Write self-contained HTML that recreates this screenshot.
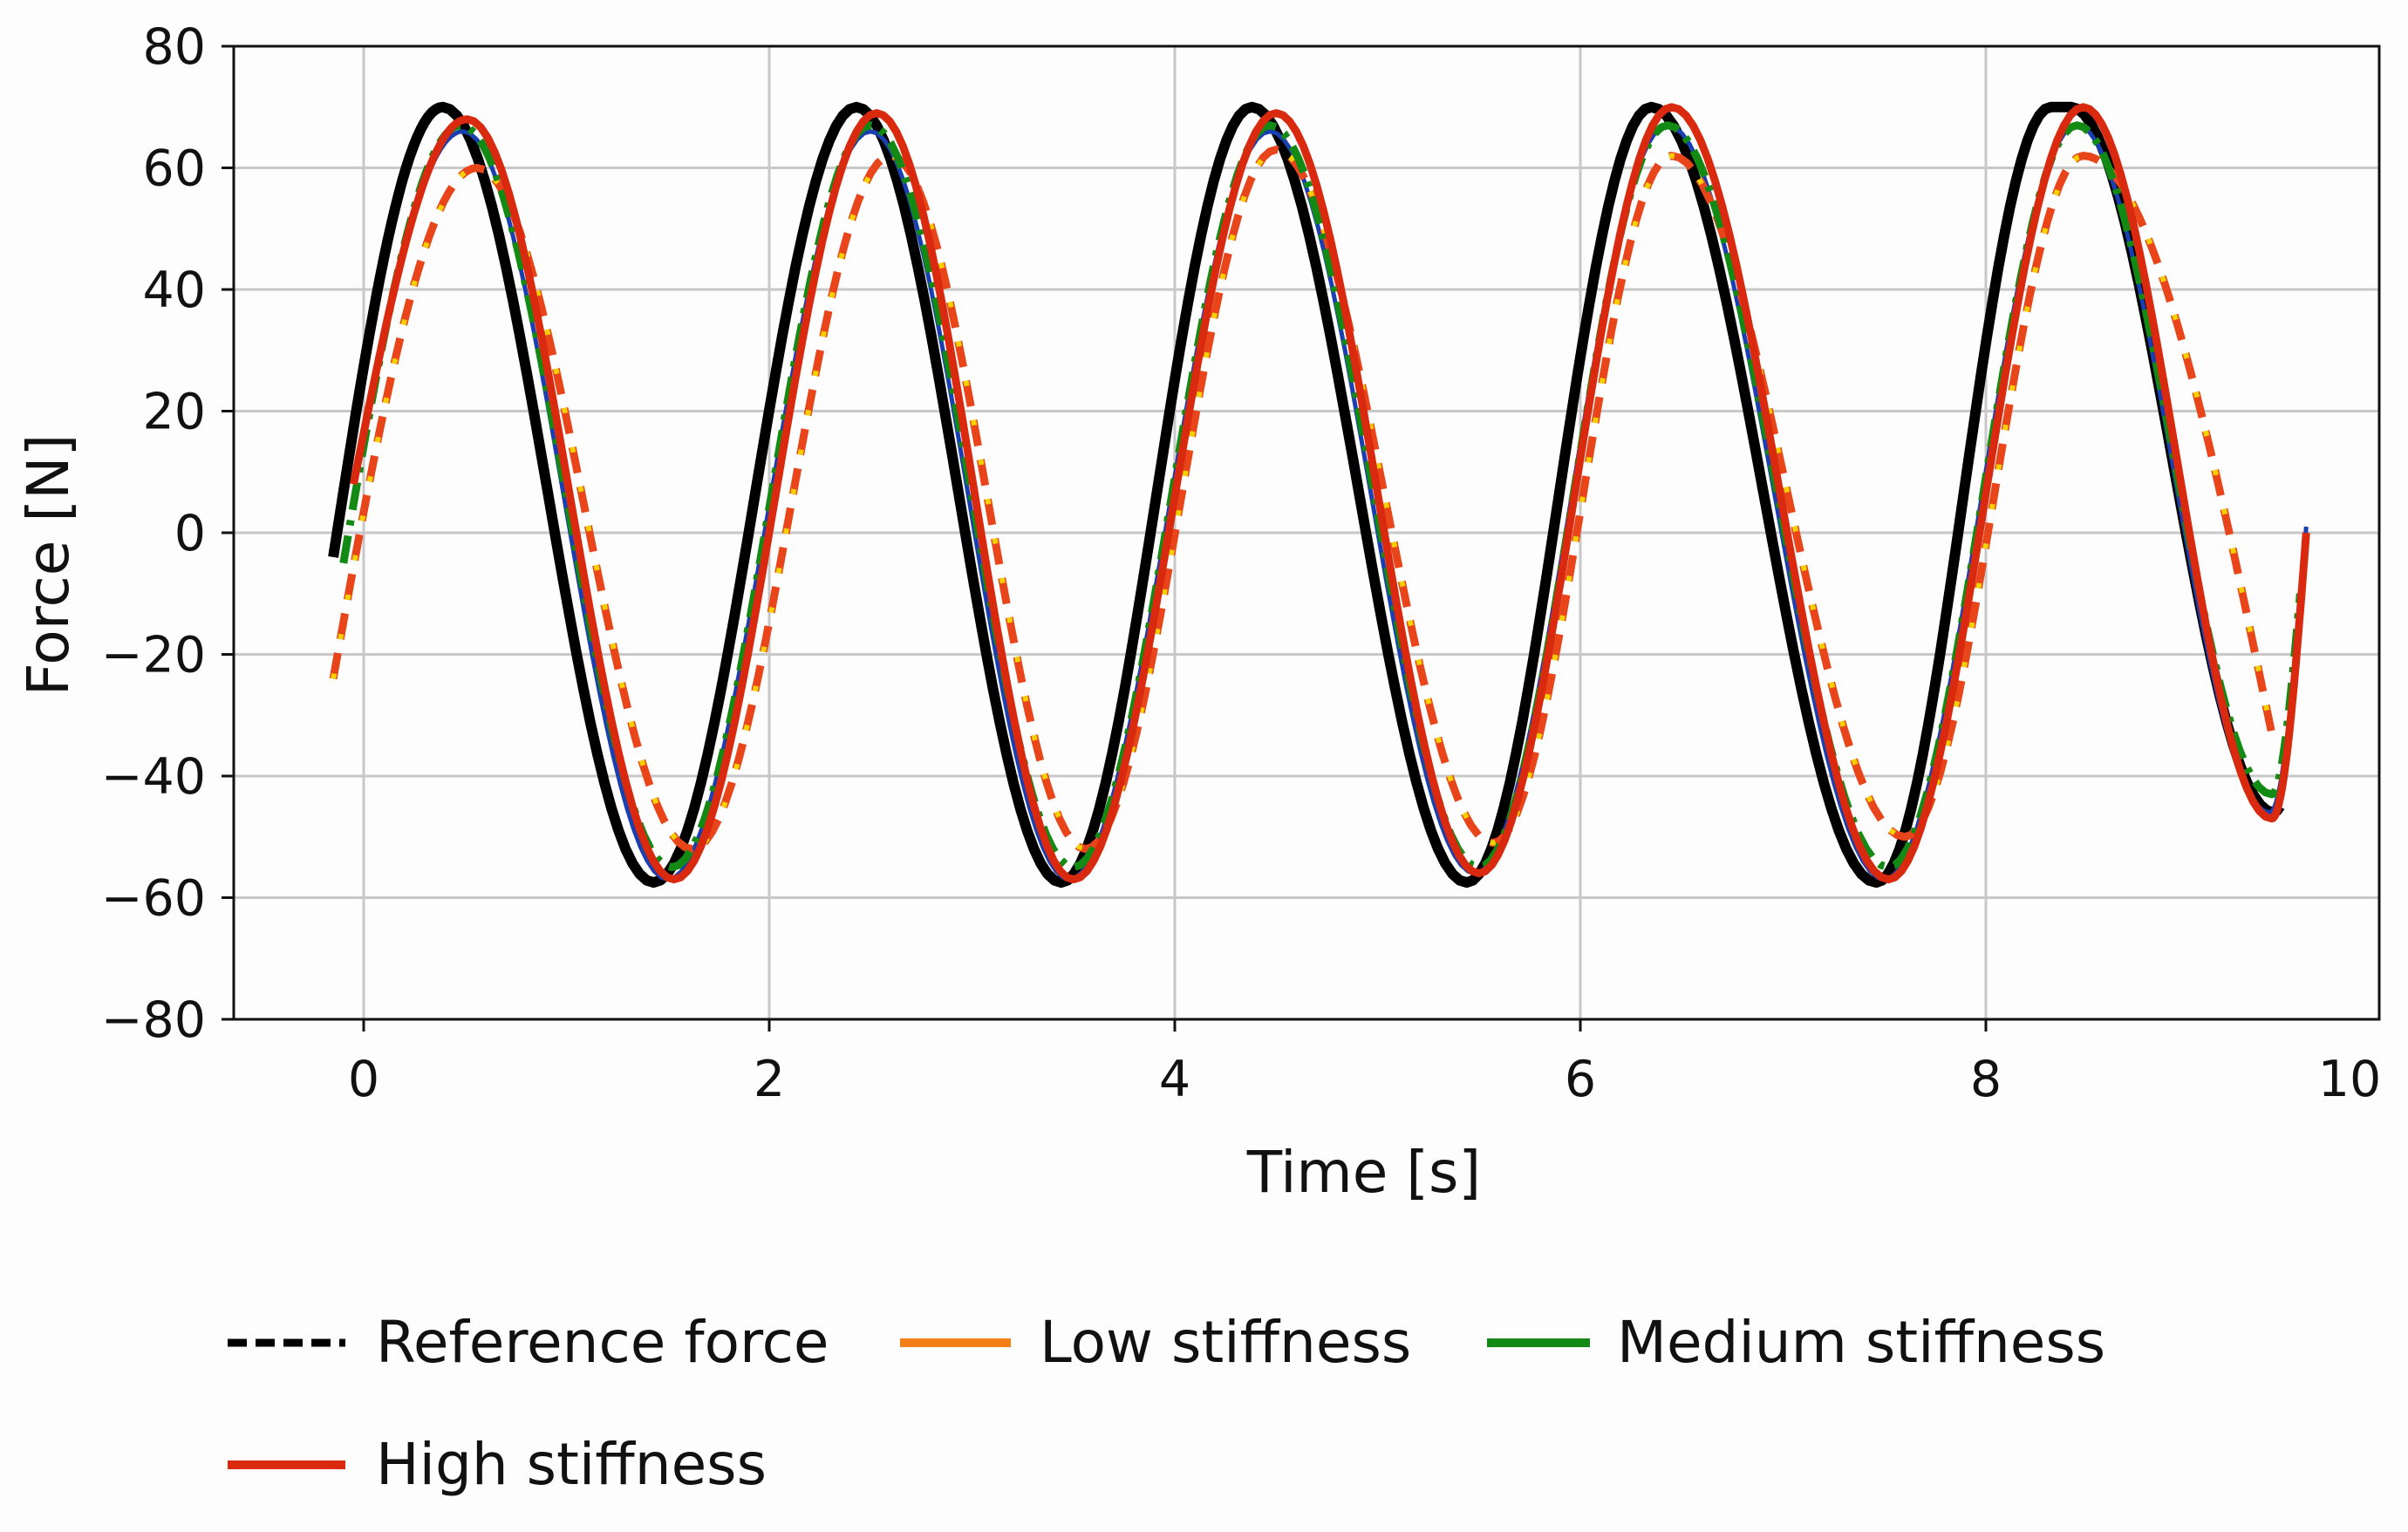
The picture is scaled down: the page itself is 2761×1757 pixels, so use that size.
<!DOCTYPE html>
<html><head><meta charset="utf-8"><style>
html,body{margin:0;padding:0;background:#fdfdfd;}
svg{display:block;font-family:"DejaVu Sans","Liberation Sans",sans-serif;}
</style></head><body>
<svg id="chart" width="2761" height="1757" viewBox="0 0 2761 1757" xmlns="http://www.w3.org/2000/svg">
<rect width="2761" height="1757" fill="#fdfdfd"/>
<g id="grid"></g>
<g id="series"></g>
<rect x="268" y="53" width="2460" height="1116" fill="none" stroke="#111" stroke-width="3"/>
<g id="ticks"></g>
<text x="1564" y="1367" font-size="66" text-anchor="middle" fill="#111">Time [s]</text>
<text transform="translate(78,648) rotate(-90)" font-size="66" text-anchor="middle" fill="#111">Force [N]</text>
<g font-size="66" fill="#111">
 <g><line x1="261" y1="1540" x2="396" y2="1540" stroke="#000" stroke-width="9" stroke-dasharray="22,10"/><text x="431" y="1562">Reference force</text></g>
 <g><line x1="1032" y1="1540" x2="1159" y2="1540" stroke="#f57f17" stroke-width="10"/><text x="1192" y="1562">Low stiffness</text></g>
 <g><line x1="1705" y1="1540" x2="1823" y2="1540" stroke="#138a13" stroke-width="10"/><text x="1854" y="1562">Medium stiffness</text></g>
 <g><line x1="261" y1="1680" x2="396" y2="1680" stroke="#d9290f" stroke-width="10"/><text x="431" y="1702">High stiffness</text></g>
</g>
</svg>
<script>
const xTicks=[0,2,4,6,8,10];
const xTickLabels=["0","2","4","6","8","10"];
const yTicks=[-80,-60,-40,-20,0,20,40,60,80];
const yTickLabels=["\u221280","\u221260","\u221240","\u221220","0","20","40","60","80"];
// series: start point, then extrema, then end point
const refT=[-0.15,0.39,1.43,2.43,3.44,4.38,5.44,6.35,7.46,8.32,8.42,9.42,9.45];
const refV=[-4,70,-57.5,70,-57.5,70,-57.5,70,-57.5,70,70,-46,-45];
const highT=[-0.05,0.51,1.53,2.53,3.5,4.5,5.5,6.45,7.52,8.48,9.41,9.58];
const highV=[8,68,-57,69,-57,69,-56,70,-57,70,-47,0];
const blueT=[-0.05,0.49,1.5,2.5,3.48,4.47,5.48,6.43,7.5,8.45,9.4,9.58];
const blueV=[8,66,-57,66,-57,66,-56,67,-57,67,-46,1];
const mediumT=[-0.1,0.48,1.52,2.5,3.5,4.47,5.5,6.43,7.52,8.45,9.41,9.55];
const mediumV=[-5,67,-55,67,-55,67,-55,67,-55,67,-43,-10];
const lowT=[-0.15,0.56,1.62,2.6,3.56,4.5,5.57,6.45,7.6,8.48,9.41];
const lowV=[-24,60,-52,62,-52,63,-51,62,-50,62,-33];
const x0=417, xs=232.5, y0=611, ys=6.975;
const X=t=>x0+t*xs, Y=v=>y0-v*ys;
const NS="http://www.w3.org/2000/svg";
const grid=document.getElementById('grid'), ticks=document.getElementById('ticks'), series=document.getElementById('series');
xTicks.forEach((t,i)=>{
  const x=X(t);
  if(t<10){
    const g=document.createElementNS(NS,'line');
    g.setAttribute('x1',x);g.setAttribute('x2',x);g.setAttribute('y1',53);g.setAttribute('y2',1169);
    g.setAttribute('stroke','#c8c8c8');g.setAttribute('stroke-width','3');
    
    
    grid.appendChild(g);
    const tk=document.createElementNS(NS,'line');
    tk.setAttribute('x1',x);tk.setAttribute('x2',x);tk.setAttribute('y1',1169);tk.setAttribute('y2',1183);
    tk.setAttribute('stroke','#111');tk.setAttribute('stroke-width','3');
    
    
    ticks.appendChild(tk);
  }
  const tx=document.createElementNS(NS,'text');
  tx.setAttribute('x',t<10?x:2694);tx.setAttribute('y',1257);tx.setAttribute('font-size','57');
  tx.setAttribute('text-anchor','middle');tx.setAttribute('fill','#111');
  tx.textContent=xTickLabels[i];
  
  
  ticks.appendChild(tx);
});
yTicks.forEach((v,i)=>{
  const y=Y(v);
  const g=document.createElementNS(NS,'line');
  g.setAttribute('x1',268);g.setAttribute('x2',2728);g.setAttribute('y1',y);g.setAttribute('y2',y);
  g.setAttribute('stroke','#c8c8c8');g.setAttribute('stroke-width','3');
  
  
  grid.appendChild(g);
  const tk=document.createElementNS(NS,'line');
  tk.setAttribute('x1',254);tk.setAttribute('x2',268);tk.setAttribute('y1',y);tk.setAttribute('y2',y);
  tk.setAttribute('stroke','#111');tk.setAttribute('stroke-width','3');
  
  
  ticks.appendChild(tk);
  const tx=document.createElementNS(NS,'text');
  tx.setAttribute('x',236);tx.setAttribute('y',y+20);tx.setAttribute('font-size','57');
  tx.setAttribute('text-anchor','end');tx.setAttribute('fill','#111');
  tx.textContent=yTickLabels[i];
  
  
  ticks.appendChild(tx);
});
function pathD(T,V){
  const n=T.length; let d='';
  for(let i=0;i<n-1;i++){
    const ta=T[i],tb=T[i+1],a=V[i],b=V[i+1];
    for(let k=(i===0?0:1);k<=30;k++){
      const s=k/30; let e;
      if(i===0) e=Math.sin(Math.PI/2*s);
      else if(i===n-2) e=1-Math.cos(Math.PI/2*s);
      else e=(1-Math.cos(Math.PI*s))/2;
      const x=X(ta+(tb-ta)*s), y=Y(a+(b-a)*e);
      d+=(d?' L':'M')+x.toFixed(1)+','+y.toFixed(1);
    }
  }
  return d;
}
function addPath(T,V,color,w,dash,name){
  const p=document.createElementNS(NS,'path');
  p.setAttribute('d',pathD(T,V));p.setAttribute('fill','none');
  p.setAttribute('stroke',color);p.setAttribute('stroke-width',w);
  p.setAttribute('stroke-linejoin','round');
  if(dash)p.setAttribute('stroke-dasharray',dash);
  
  
  series.appendChild(p);
}
addPath(refT,refV,'#000',12,null,'reference-force-line');
addPath(blueT,blueV,'#1a3fb0',5,null,'blue-trace-line');
addPath(lowT,lowV,'#e9451a',9,'30,16','low-stiffness-line');
addPath(lowT,lowV,'#f5d000',6,'6,40','low-stiffness-dots');
addPath(mediumT,mediumV,'#138a13',9,'32,12,6,12','medium-stiffness-line');
addPath(highT,highV,'#d9290f',9,null,'high-stiffness-line');
</script>
</body></html>
